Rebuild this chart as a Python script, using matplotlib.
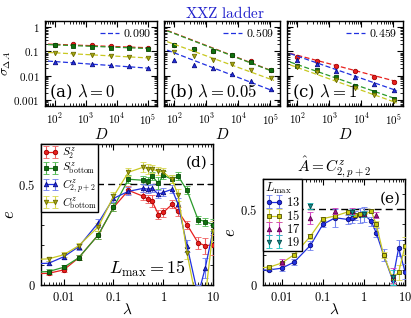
import numpy as np
import matplotlib
matplotlib.use("Agg")
import matplotlib.pyplot as plt
from matplotlib.ticker import FuncFormatter, LogLocator, NullFormatter, MultipleLocator

plt.rcParams['mathtext.fontset'] = 'cm'
plt.rcParams['font.family'] = ['DejaVu Serif']
plt.rcParams['xtick.direction'] = 'in'
plt.rcParams['ytick.direction'] = 'in'
plt.rcParams['xtick.top'] = True
plt.rcParams['ytick.right'] = True
plt.rcParams['axes.linewidth'] = 1.0

# ---------------- data: top panels ----------------
D = [100, 400, 1600, 6400, 25600, 102400]
a_S2 = [0.19, 0.20, 0.176, 0.166, 0.15, 0.141]
a_Sb = [0.18, 0.165, 0.155, 0.145, 0.135, 0.128]
a_Cb = [0.088, 0.080, 0.071, 0.064, 0.058, 0.053]
a_C2 = [0.038, 0.035, 0.029, 0.027, 0.024, 0.020]

b_S2 = [0.18, 0.13, 0.105, 0.072, 0.039, 0.0175]
b_Sb = [0.176, 0.129, 0.102, 0.071, 0.038, 0.017]
b_Cb = [0.094, 0.064, 0.044, 0.029, 0.017, 0.0079]
b_C2 = [0.044, 0.027, 0.020, 0.012, 0.0060, 0.0028]

c_S2 = [0.058, 0.040, 0.025, 0.0157, 0.0089, 0.0053]
c_Sb = [0.025, 0.017, 0.0085, 0.0038, 0.0022, 0.0011]
c_Cb = [0.022, 0.014, 0.0068, 0.0030, 0.0016, 0.0009]
c_C2 = [0.043, 0.029, 0.016, 0.0085, 0.0045, 0.0026]

# fit parameters: (value at D=1e5, exponent)
a_fit = {'S2': (0.142, 0.047), 'Sb': (0.132, 0.050), 'Cb': (0.054, 0.070), 'C2': (0.0205, 0.090)}
b_fit = {'S2': (0.0168, 0.51), 'Sb': (0.0163, 0.509), 'Cb': (0.0072, 0.48), 'C2': (0.0026, 0.509)}
c_fit = {'S2': (0.0062, 0.35), 'Sb': (0.0012, 0.46), 'Cb': (0.00085, 0.47), 'C2': (0.0027, 0.459)}
fit_labels = ['0.090', '0.509', '0.459']
panel_titles = [r'(a) $\lambda=0$', r'(b) $\lambda=0.05$', r'(c) $\lambda=1$']

# ---------------- data: panel (d) ----------------
lam = [0.002, 0.005, 0.01, 0.02, 0.05, 0.1, 0.2, 0.4, 0.5, 0.6, 0.8, 1, 1.5, 2, 3, 5, 7, 10]
d_S2 = [0.055, 0.058, 0.075, 0.135, 0.25, 0.385, 0.47, 0.44, 0.425, 0.415, 0.35, 0.36, 0.40, 0.365, 0.30, 0.21, 0.195, 0.20]
d_S2_err = [0.01, 0.01, 0.01, 0.012, 0.02, 0.02, 0.02, 0.02, 0.02, 0.03, 0.02, 0.02, 0.02, 0.02, 0.02, 0.03, 0.04, 0.05]
d_Sb = [0.062, 0.067, 0.088, 0.135, 0.25, 0.385, 0.525, 0.52, 0.515, 0.54, 0.505, 0.545, 0.525, 0.54, 0.47, 0.325, 0.315, 0.30]
d_Sb_err = [0.01, 0.01, 0.01, 0.012, 0.02, 0.02, 0.02, 0.02, 0.02, 0.02, 0.03, 0.02, 0.02, 0.02, 0.02, 0.02, 0.02, 0.03]
d_C2 = [0.105, 0.108, 0.14, 0.19, 0.31, 0.43, 0.465, 0.48, 0.475, 0.48, 0.45, 0.46, 0.475, 0.40, 0.195, -0.05, 0.085, 0.27]
d_C2_err = [0.01, 0.01, 0.012, 0.015, 0.02, 0.02, 0.02, 0.02, 0.02, 0.02, 0.02, 0.02, 0.02, 0.03, 0.03, 0.05, 0.05, 0.05]
d_Cb = [0.125, 0.13, 0.15, 0.195, 0.29, 0.44, 0.56, 0.585, 0.575, 0.575, 0.565, 0.56, 0.525, 0.445, 0.16, -0.12, -0.06, 0.27]
d_Cb_err = [0.01, 0.01, 0.012, 0.015, 0.02, 0.02, 0.02, 0.025, 0.025, 0.02, 0.02, 0.02, 0.02, 0.03, 0.03, 0.05, 0.05, 0.05]

# ---------------- data: panel (e) ----------------
e13 = [0.095, 0.10, 0.111, 0.151, 0.262, 0.40, 0.444, 0.433, 0.44, 0.456, 0.46, 0.467, 0.422, 0.344, 0.2, 0.033, 0.244, 0.089]
e13_err = [0.01, 0.01, 0.02, 0.02, 0.03, 0.02, 0.06, 0.03, 0.03, 0.03, 0.05, 0.05, 0.03, 0.03, 0.04, 0.03, 0.05, 0.05]
e15 = [0.11, 0.118, 0.145, 0.20, 0.322, 0.438, 0.456, 0.482, 0.48, 0.46, 0.467, 0.462, 0.489, 0.40, 0.2, 0.044, 0.084, 0.256]
e15_err = [0.01, 0.01, 0.01, 0.01, 0.015, 0.01, 0.01, 0.01, 0.01, 0.01, 0.01, 0.01, 0.01, 0.02, 0.02, 0.03, 0.05, 0.06]
lam17 = [0.01, 0.05, 0.2, 0.5, 1, 2, 5]
e17 = [0.15, 0.444, 0.49, 0.49, 0.467, 0.465, 0.06]
e17_err = [0.02, 0.04, 0.02, 0.02, 0.02, 0.02, 0.05]
lam19 = [0.05, 0.5, 1, 5]
e19 = [0.522, 0.48, 0.467, 0.05]
e19_err = [0.02, 0.02, 0.02, 0.05]

# ---------------- styles ----------------
RED, RED_E = '#e8201e', '#a00000'
GRN, GRN_E = '#2a9a2a', '#064806'
BLU, BLU_E = '#2030e0', '#0a0a80'
YEL, YEL_E = '#c8c820', '#6a6a00'
styles = {
    'S2': dict(color=RED, marker='o', mfc=RED, mec=RED_E, ec='#f06060'),
    'Sb': dict(color=GRN, marker='s', mfc='#107010', mec=GRN_E, ec='#50b850'),
    'C2': dict(color=BLU, marker='^', mfc=BLU, mec=BLU_E, ec='#7080f0'),
    'Cb': dict(color=YEL, marker='v', mfc='#a8a810', mec=YEL_E, ec='#d8d850'),
}
MS = 3.2

fig = plt.figure(figsize=(4.11, 3.18), dpi=100)

def dfmt(v, p):
    return r'$10^{%d}$' % int(round(np.log10(v)))

def yfmt(v, p):
    return r'$%g$' % v

top_pos = [(45, 157), (164, 280), (287, 403)]
top_data = [
    ({'S2': a_S2, 'Sb': a_Sb, 'Cb': a_Cb, 'C2': a_C2}, a_fit),
    ({'S2': b_S2, 'Sb': b_Sb, 'Cb': b_Cb, 'C2': b_C2}, b_fit),
    ({'S2': c_S2, 'Sb': c_Sb, 'Cb': c_Cb, 'C2': c_C2}, c_fit),
]
Dfit = np.logspace(np.log10(60), np.log10(1.3e5), 50)
W, H = 411, 318
for i, ((x0, x1), (dat, fit)) in enumerate(zip(top_pos, top_data)):
    ax = fig.add_axes([x0 / W, 1 - 106 / H, (x1 - x0) / W, 85 / H])
    ax.set_xscale('log'); ax.set_yscale('log')
    for key in ['S2', 'Sb', 'Cb', 'C2']:
        st = styles[key]
        amp, ex = fit[key]
        ln, = ax.plot(Dfit, amp * (Dfit / 1e5) ** (-ex), ls=(0, (4, 2)), color=st['color'], lw=0.9)
        if key == 'C2':
            ln.set_label('$' + fit_labels[i] + '$')
        ax.plot(D, dat[key], ls='none', marker=st['marker'], mfc=st['mfc'], mec=st['mec'], ms=MS, mew=0.6)
    ax.set_xlim(48, 2e5)
    ax.set_ylim(5.6e-4, 1.8)
    ax.xaxis.set_major_locator(LogLocator(base=10, numticks=10))
    ax.xaxis.set_minor_locator(LogLocator(base=10, subs=np.arange(2, 10), numticks=10))
    ax.yaxis.set_major_locator(LogLocator(base=10, numticks=10))
    ax.yaxis.set_minor_locator(LogLocator(base=10, subs=np.arange(2, 10), numticks=10))
    ax.xaxis.set_major_formatter(FuncFormatter(dfmt))
    ax.xaxis.set_minor_formatter(NullFormatter())
    ax.tick_params(which='major', length=4, labelsize=8, pad=4)
    ax.tick_params(which='minor', length=2)
    if i == 0:
        ax.yaxis.set_major_formatter(FuncFormatter(yfmt))
        ax.set_ylabel(r'$\sigma_{\Delta A}$', fontsize=10, labelpad=0)
    else:
        ax.yaxis.set_major_formatter(NullFormatter())
    ax.yaxis.set_minor_formatter(NullFormatter())
    ax.set_xlabel(r'$D$', fontsize=11, labelpad=0)
    ax.text(0.04, 0.05, panel_titles[i], transform=ax.transAxes, fontsize=12, ha='left', va='bottom')
    ax.legend(loc='upper right', frameon=False, fontsize=8.5, handlelength=1.6, handletextpad=0.3,
              borderaxespad=0.3, borderpad=0.2)

fig.text(0.547, 0.958, r'$\mathrm{XXZ\ ladder}$', color='#2222cc', fontsize=11, ha='center', va='center')

def lam_fmt(v, p):
    return r'$%g$' % v

def efmt(v, p):
    return r'$%g$' % v

def setup_lam_axes(ax):
    ax.set_xscale('log')
    ax.set_xlim(0.0035, 10)
    ax.set_ylim(0, 0.7)
    ax.xaxis.set_major_locator(LogLocator(base=10, numticks=10))
    ax.xaxis.set_minor_locator(LogLocator(base=10, subs=np.arange(2, 10), numticks=10))
    ax.xaxis.set_major_formatter(FuncFormatter(lam_fmt))
    ax.xaxis.set_minor_formatter(NullFormatter())
    ax.yaxis.set_major_locator(MultipleLocator(0.5))
    ax.yaxis.set_minor_locator(MultipleLocator(0.1))
    ax.yaxis.set_major_formatter(FuncFormatter(efmt))
    ax.tick_params(which='major', length=4, labelsize=9, pad=4)
    ax.tick_params(which='minor', length=2)
    ax.axhline(0.5, color='k', ls=(0, (5, 3)), lw=1.0, zorder=1)

# ---------------- panel (d) ----------------
axd = fig.add_axes([41 / W, 1 - 285 / H, 172 / W, 141 / H])
setup_lam_axes(axd)
d_series = [('S2', d_S2, d_S2_err, r'$S_2^z$'), ('Sb', d_Sb, d_Sb_err, r'$S^z_{\rm bottom}$'),
            ('C2', d_C2, d_C2_err, r'$C^z_{2,p+2}$'), ('Cb', d_Cb, d_Cb_err, r'$C^z_{\rm bottom}$')]
for key, y, err, lab in d_series:
    st = styles[key]
    axd.errorbar(lam, y, yerr=err, color=st['color'], marker=st['marker'], mfc=st['mfc'], mec=st['mec'],
                 ms=MS, mew=0.6, lw=0.9, elinewidth=0.8, capsize=2.2, capthick=0.8,
                 ecolor=st['ec'], label=lab, zorder=3)
leg = axd.legend(loc='upper left', fontsize=8, numpoints=2, handlelength=1.4, handletextpad=0.3,
                 borderaxespad=0.0, borderpad=0.15, labelspacing=0.0, fancybox=False, framealpha=1)
leg.get_frame().set_edgecolor('k'); leg.get_frame().set_linewidth(1.0)
axd.set_ylabel(r'$e$', fontsize=12, labelpad=0)
axd.set_xlabel(r'$\lambda$', fontsize=11, labelpad=-1)
axd.text(0.97, 0.92, '(d)', transform=axd.transAxes, fontsize=11, ha='right', va='top')
axd.text(0.84, 0.04, r'$L_{\max}=15$', transform=axd.transAxes, fontsize=13, ha='right', va='bottom')

# ---------------- panel (e) ----------------
axe = fig.add_axes([263 / W, 1 - 285 / H, 142 / W, 106 / H])
setup_lam_axes(axe)
axe.errorbar(lam, e13, yerr=e13_err, color=BLU, marker='o', mfc=BLU, mec=BLU_E, ms=MS, mew=0.6, lw=0.9,
             elinewidth=0.8, capsize=2.2, capthick=0.8, ecolor='#7080f0', label='$13$', zorder=3)
axe.errorbar(lam, e15, yerr=e15_err, color=YEL, marker='s', mfc='#c8c810', mec='#505000', ms=MS, mew=0.6,
             lw=0.9, elinewidth=0.8, capsize=2.2, capthick=0.8, ecolor='#d8d850', label='$15$', zorder=4)
axe.errorbar(lam17, e17, yerr=e17_err, color='#b020a0', ls='none', marker='^', mfc='#a01090', mec='#600050',
             ms=MS, mew=0.6, elinewidth=0.8, capsize=2.2, capthick=0.8, ecolor='#d040c0', label='$17$', zorder=5)
axe.errorbar(lam19, e19, yerr=e19_err, color='#10a0a0', ls='none', marker='v', mfc='#109090', mec='#004848',
             ms=MS, mew=0.6, elinewidth=0.8, capsize=2.2, capthick=0.8, ecolor='#20c0c0', label='$19$', zorder=5)
leg = axe.legend(loc='upper left', fontsize=9, numpoints=2, handlelength=1.4, handletextpad=0.3,
                 borderaxespad=0.0, borderpad=0.15, labelspacing=0.0, fancybox=False, framealpha=1,
                 title=r'$L_{\max}$', title_fontsize=9, alignment='left')
leg.get_frame().set_edgecolor('k'); leg.get_frame().set_linewidth(1.0)
axe.set_ylabel(r'$e$', fontsize=12, labelpad=1)
axe.set_xlabel(r'$\lambda$', fontsize=11, labelpad=-1)
axe.text(0.97, 0.88, '(e)', transform=axe.transAxes, fontsize=11, ha='right', va='top')
axe.set_title(r'$\hat{A}=C^z_{2,p+2}$', fontsize=11, pad=5)

fig.savefig('out.png', dpi=100)
